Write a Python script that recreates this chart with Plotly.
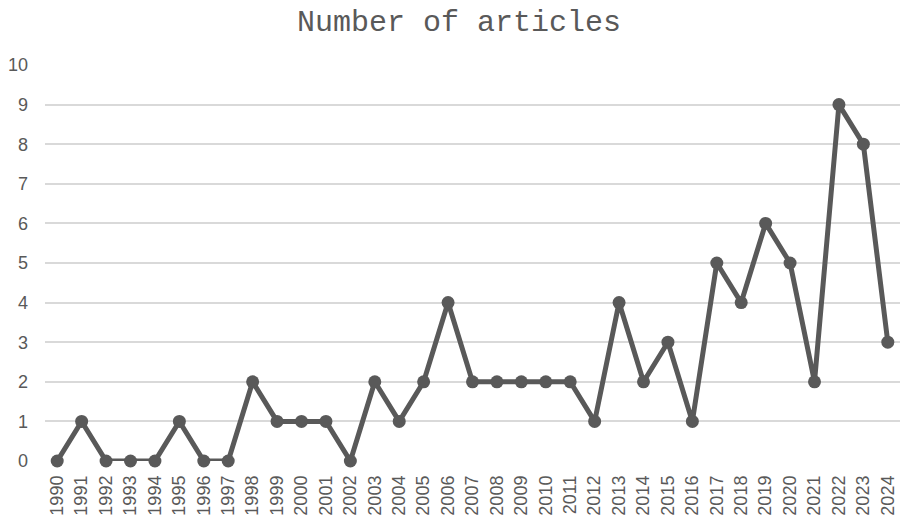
import plotly.graph_objects as go

years = [str(y) for y in range(1990, 2025)]
articles = [0, 1, 0, 0, 0, 1, 0, 0, 2, 1, 1, 1, 0, 2, 1, 2, 4, 2, 2, 2,
            2, 2, 1, 4, 2, 3, 1, 5, 4, 6, 5, 2, 9, 8, 3]
y_ticks = list(range(0, 11))

line_color = "#595959"
grid_color = "#d9d9d9"

fig = go.Figure(
    go.Scatter(
        x=years,
        y=articles,
        mode="lines+markers",
        line=dict(color=line_color, width=5),
        marker=dict(color=line_color, size=13),
        cliponaxis=False,
        hoverinfo="x+y",
    )
)

fig.update_layout(
    width=900,
    height=520,
    margin=dict(l=45, r=0, t=65, b=59),
    paper_bgcolor="white",
    plot_bgcolor="white",
    showlegend=False,
    title=dict(
        text="Number of articles",
        x=459 / 900,
        xanchor="center",
        xref="container",
        y=1 - 20 / 520,
        yanchor="middle",
        yref="container",
        font=dict(family="Liberation Mono", size=30, color=line_color),
    ),
    font=dict(family="Liberation Sans, Arial", color=line_color),
)

fig.update_xaxes(
    type="category",
    range=[-0.5, len(years) - 0.5],
    tickangle=-90,
    tickfont=dict(size=18, color=line_color),
    showgrid=False,
    showline=False,
    zeroline=False,
    ticks="",
    ticklabelstandoff=10,
)

fig.update_yaxes(
    range=[0, 10],
    tickvals=y_ticks,
    tickfont=dict(size=18, color=line_color),
    showgrid=True,
    gridcolor=grid_color,
    gridwidth=1.5,
    zeroline=False,
    showline=False,
    ticks="",
    ticklabelstandoff=16,
)

fig.write_html("out.html")
